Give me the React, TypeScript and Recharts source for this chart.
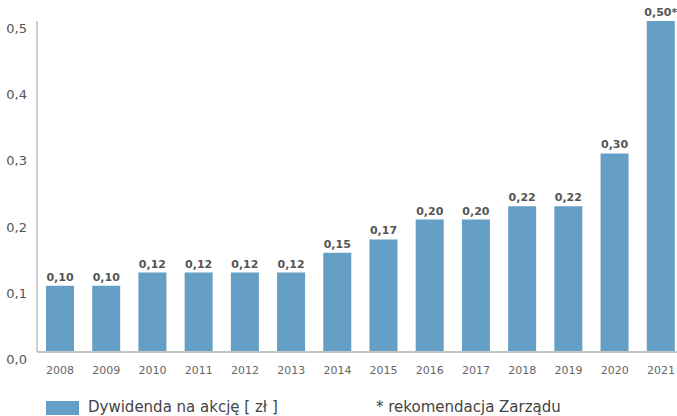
import { BarChart, Bar, XAxis, YAxis, LabelList } from "recharts";

const years = ["2008", "2009", "2010", "2011", "2012", "2013", "2014", "2015", "2016", "2017", "2018", "2019", "2020", "2021"];
const dividend = [0.1, 0.1, 0.12, 0.12, 0.12, 0.12, 0.15, 0.17, 0.2, 0.2, 0.22, 0.22, 0.3, 0.5];
const notes = ["", "", "", "", "", "", "", "", "", "", "", "", "", "*"];
const yTicks = [0, 0.1, 0.2, 0.3, 0.4, 0.5];

const data = years.map((year, i) => ({ year, value: dividend[i], note: notes[i] }));

const FONT = "'DejaVu Sans', sans-serif";
const BLUE = "#659fc5";

const fmt = (v: number, digits: number) => v.toFixed(digits).replace(".", ",");

function YTick(props: any) {
  const { y, payload } = props;
  // labels sit a little below their gridline in the original
  return (
    <text x={27} y={y + 12} textAnchor="end" fontSize={13} fill="#555" fontFamily={FONT}>
      {fmt(payload.value, 1)}
    </text>
  );
}

function XTick(props: any) {
  const { x, y, payload } = props;
  return (
    <text x={x} y={y + 14} textAnchor="middle" fontSize={11} fill="#666" fontFamily={FONT}>
      {payload.value}
    </text>
  );
}

function BarLabel(props: any) {
  const { x, y, width, index } = props;
  return (
    <text x={x + width / 2} y={y - 5} textAnchor="middle" fontSize={11} fontWeight="bold" fill="#555" fontFamily={FONT}>
      {fmt(dividend[index], 2) + notes[index]}
    </text>
  );
}

export default function App() {
  return (
    <div style={{ position: "fixed", left: 0, top: 0, width: 677, height: 416, overflow: "hidden", background: "#fff" }}>
      <BarChart width={690} height={380} data={data} margin={{ top: 21, right: 6, left: 0, bottom: 0 }}>
        <XAxis
          dataKey="year"
          tickLine={false}
          axisLine={{ stroke: "#c4c4c4", strokeWidth: 2 }}
          tick={<XTick />}
          height={28}
        />
        <YAxis
          domain={[0, 0.5]}
          ticks={yTicks}
          width={37}
          tickLine={false}
          axisLine={{ stroke: "#bdbdbd", strokeWidth: 1.5 }}
          tick={<YTick />}
          interval={0}
        />
        <Bar dataKey="value" fill={BLUE} barSize={28} isAnimationActive={false}>
          <LabelList dataKey="value" content={<BarLabel />} />
        </Bar>
      </BarChart>
      <div style={{ position: "absolute", left: 46, top: 401, width: 33, height: 14, background: BLUE }} />
      <div style={{ position: "absolute", left: 88, top: 398, fontFamily: FONT, fontSize: 15, color: "#444", whiteSpace: "nowrap", lineHeight: "18px" }}>
        Dywidenda na akcję [ zł ]
      </div>
      <div style={{ position: "absolute", left: 376, top: 398, fontFamily: FONT, fontSize: 15, color: "#444", whiteSpace: "nowrap", lineHeight: "18px" }}>
        * rekomendacja Zarządu
      </div>
    </div>
  );
}
